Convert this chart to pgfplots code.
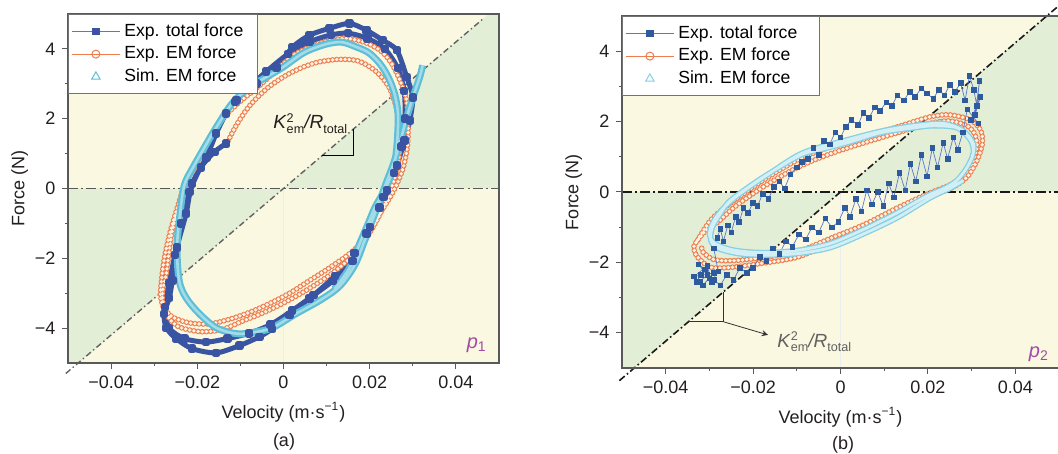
\documentclass[border=0pt]{standalone}
\usepackage{fontspec}
\setmainfont{Liberation Sans}
\usepackage{pgfplots}
\usepackage{pgfplotstable}
\pgfplotsset{compat=1.18}

\definecolor{bgY}{HTML}{FAF8E0}
\definecolor{bgG}{HTML}{E3EED6}
\definecolor{blueA}{HTML}{3A54A4}
\definecolor{blueL}{HTML}{5A78C8}
\definecolor{blueB}{HTML}{2D5B9E}
\definecolor{orA}{HTML}{EE7D4E}
\definecolor{orFill}{HTML}{FDF2E2}
\definecolor{cyA}{HTML}{5CBFD7}
\definecolor{cyIn}{HTML}{A4DBE9}
\definecolor{cyB}{HTML}{85D0E2}
\definecolor{cyBIn}{HTML}{D3EFF5}
\definecolor{pcol}{HTML}{A24BA6}
\definecolor{txt}{HTML}{231F20}

\pgfplotsset{
  panel/.style={
    scale only axis, clip=false, axis on top,
    xmin=-0.05, xmax=0.05, ymin=-5, ymax=5,
    xtick={-0.04,-0.02,0,0.02,0.04},
    xticklabels={−0.04,−0.02,0,0.02,0.04},
    ytick={-4,-2,0,2,4}, yticklabels={−4,−2,0,2,4},
    minor x tick num=1, minor y tick num=1,
    scaled x ticks=false, scaled y ticks=false,
    tick align=outside, tick pos=left,
    major tick length=2.8pt, minor tick length=1.6pt,
    axis line style={draw=black!65, line width=0.55pt},
    tick style={draw=black!65, line width=0.5pt},
    tick label style={font=\fontsize{9}{10}\selectfont, text=txt},
    label style={font=\fontsize{9}{10}\selectfont, text=txt},
    xlabel={Velocity (m·s\textsuperscript{−1})},
    ylabel={Force (N)},
    ylabel style={yshift=-3.5pt},
    axis background/.style={fill=bgY},
    legend cell align=left,
    legend style={at={(0,1)}, anchor=north west, draw=black!55, line width=0.5pt,
      fill=white, font=\fontsize{8.8}{10.5}\selectfont, inner xsep=1.5pt, inner ysep=4pt,
      row sep=2.2pt, nodes={inner ysep=0.6pt}},
    legend image code/.code={\draw[mark repeat=2,mark phase=2,##1] plot coordinates {(0cm,0cm) (0.42cm,0cm) (0.84cm,0cm)};},
  },
  orout/.style={draw=orA, line width=2.8pt, line cap=round, dash pattern=on 0pt off 2.1pt, smooth, tension=0.5, forget plot},
  orin/.style={draw=orFill, line width=1.9pt, line cap=round, dash pattern=on 0pt off 2.1pt, smooth, tension=0.5, forget plot},
}

% Exp. EM force, panel (a)
\pgfplotstableread{
x y
-0.0133 1.25
-0.0110 1.80
-0.0080 2.35
-0.0040 2.85
0.0000 3.20
0.0040 3.45
0.0080 3.62
0.0130 3.70
0.0175 3.65
0.0215 3.35
0.0245 2.90
0.0262 2.30
0.0270 1.60
0.0268 0.90
0.0258 0.30
0.0240 -0.30
0.0215 -0.95
0.0185 -1.55
0.0150 -2.05
0.0105 -2.50
0.0055 -2.90
0.0005 -3.25
-0.0045 -3.55
-0.0095 -3.80
-0.0145 -4.05
-0.0195 -4.10
-0.0245 -3.95
-0.0272 -3.60
-0.0285 -3.10
-0.0282 -2.50
-0.0275 -1.90
-0.0262 -1.20
-0.0245 -0.50
-0.0228 0.15
-0.0205 0.60
-0.0185 1.10
-0.0160 1.70
-0.0130 2.15
-0.0100 2.50
-0.0060 2.90
-0.0020 3.35
0.0020 3.80
0.0060 4.05
0.0100 4.22
0.0145 4.30
0.0190 4.18
0.0225 3.95
0.0250 3.60
0.0270 3.10
0.0285 2.55
0.0289 1.90
0.0288 1.25
0.0278 0.60
0.0262 0.10
0.0245 -0.30
0.0222 -0.75
0.0192 -1.40
0.0155 -1.85
0.0107 -2.27
0.0060 -2.64
0.0014 -3.00
-0.0033 -3.30
-0.0079 -3.55
-0.0126 -3.75
-0.0172 -3.88
-0.0219 -3.85
-0.0258 -3.68
-0.0277 -3.40
-0.0281 -3.00
-0.0272 -2.45
-0.0266 -1.87
-0.0258 -1.21
-0.0242 -0.55
-0.0226 0.09
-0.0219 0.32
}\emA

% Exp. EM force, panel (b)
\pgfplotstableread{
x y
-0.0327 -1.37
-0.0297 -0.80
-0.0251 -0.31
-0.0176 0.34
-0.0098 0.91
-0.0023 1.28
0.0053 1.57
0.0130 1.85
0.0206 2.14
0.0251 2.19
0.0297 2.05
0.0320 1.77
0.0325 1.40
0.0313 0.91
0.0290 0.43
0.0258 0.14
0.0206 -0.14
0.0130 -0.60
0.0053 -1.08
-0.0023 -1.45
-0.0098 -1.85
-0.0176 -2.02
-0.0251 -2.14
-0.0297 -2.14
-0.0327 -1.85
-0.0336 -1.57
-0.0327 -1.37
-0.0305 -1.05
-0.0280 -0.85
-0.0240 -0.40
-0.0170 0.20
-0.0095 0.72
-0.0020 1.10
0.0055 1.40
0.0130 1.68
0.0205 1.95
0.0250 2.02
0.0290 1.88
0.0308 1.62
0.0312 1.28
0.0302 0.85
0.0280 0.45
0.0250 0.20
0.0200 -0.05
0.0130 -0.45
0.0055 -0.92
-0.0020 -1.30
-0.0095 -1.68
-0.0170 -1.85
-0.0245 -1.95
-0.0290 -1.92
-0.0315 -1.70
-0.0318 -1.50
}\emB

\newcommand{\slopelabel}{\textit{K}\rlap{\raisebox{3.4pt}{\fontsize{6.3}{7}\selectfont 2}}\raisebox{-2.2pt}{\fontsize{6.3}{7}\selectfont em}\textit{/R}\raisebox{-2.2pt}{\fontsize{6.3}{7}\selectfont total}}

\begin{document}
\begin{tikzpicture}
\useasboundingbox (0,0) rectangle (529pt,227pt);

% ---------------- panel (a) ----------------
\begin{axis}[panel, width=215.5pt, height=174.5pt, at={(34pt,45.5pt)}, anchor=south west]
\addlegendimage{draw=blueL, line width=0.5pt, mark=square*, mark options={draw=blueA, fill=blueA}, mark size=1.6pt}
\addlegendentry{\makebox[63pt][l]{Exp. total force}}
\addlegendimage{draw=orA, line width=0.5pt, mark=o, mark options={draw=orA, fill=white}, mark size=2pt}
\addlegendentry{Exp. EM force}
\addlegendimage{only marks, mark=triangle, mark options={draw=cyA}, mark size=2.4pt}
\addlegendentry{Sim. EM force}

\addplot[fill=bgG, draw=none, forget plot] coordinates {(0,0) (0.05,0) (0.05,5) (0.0476,5)} -- cycle;
\addplot[fill=bgG, draw=none, forget plot] coordinates {(0,0) (-0.05,0) (-0.05,-5) (-0.0476,-5)} -- cycle;
\addplot[draw=black!7, line width=0.3pt, forget plot] coordinates {(0,-5) (0,0)};
\addplot[draw=black!65, line width=0.85pt, dash pattern=on 5pt off 1.6pt on 1pt off 1.6pt, forget plot] coordinates {(-0.05,0) (0.05,0)};
\addplot[draw=black!62, line width=0.7pt, dash pattern=on 3pt off 1.5pt on 0.7pt off 1.5pt, forget plot] coordinates {(-0.0505,-5.30) (0.0463,4.86)};

% Exp. total force
\addplot[draw=blueA, line width=2.5pt, smooth, tension=0.45, line join=round, mark=square*, mark size=0.85pt, mark options={draw=blueA, fill=blueA}, forget plot] coordinates {
(-0.0109,2.53) (-0.0063,3.01) (-0.0016,3.47) (0.0021,4.05) (0.0060,4.39) (0.0107,4.59) (0.0153,4.73) (0.0193,4.53) (0.0230,4.25) (0.0263,3.96) (0.0286,3.19) (0.0300,2.61) (0.0293,1.95) (0.0281,1.38) (0.0263,0.66) (0.0240,-0.06) (0.0223,-0.55) (0.0193,-1.29) (0.0160,-2.07) (0.0114,-2.65) (0.0060,-3.15) (0.0014,-3.62) (-0.0026,-4.02) (-0.0056,-4.25) (-0.0102,-4.50) (-0.0156,-4.71) (-0.0212,-4.59) (-0.0249,-4.30) (-0.0272,-3.99) (-0.0277,-3.59) (-0.0265,-3.13) (-0.0258,-2.64) (-0.0247,-1.69) (-0.0226,-0.72) (-0.0212,0.14) (-0.0179,0.89) (-0.0156,1.58) (-0.0133,2.15) (-0.0112,2.48)
(-0.0085,2.85) (-0.0040,3.35) (0.0010,3.85) (0.0060,4.20) (0.0110,4.40) (0.0150,4.45) (0.0195,4.30) (0.0235,4.00) (0.0265,3.45) (0.0280,2.80) (0.0282,2.00) (0.0274,1.20) (0.0256,0.45) (0.0232,-0.25) (0.0200,-1.10) (0.0165,-1.85) (0.0120,-2.50) (0.0070,-3.05) (0.0020,-3.50) (-0.0030,-3.90) (-0.0080,-4.15) (-0.0130,-4.30) (-0.0180,-4.40) (-0.0230,-4.30) (-0.0265,-4.00) (-0.0275,-3.40) (-0.0265,-2.70) (-0.0252,-1.90) (-0.0238,-1.00) (-0.0218,-0.10) (-0.0192,0.60) (-0.0160,1.05) (-0.0133,1.29)};

% Exp. EM force
\addplot[orout] table {\emA};
\addplot[orin] table {\emA};

% Sim. EM force
\addplot[draw=cyA, line width=1.1pt, double=cyIn, double distance=1.3pt, smooth, tension=0.55, forget plot] coordinates {
(0.0323,3.53) (0.0316,3.19) (0.0300,2.60) (0.0285,2.00) (0.0270,1.30) (0.0255,0.70) (0.0238,0.15) (0.0222,-0.40) (0.0205,-0.95) (0.0188,-1.50) (0.0165,-2.20) (0.0130,-2.80) (0.0085,-3.20) (0.0030,-3.58) (-0.0026,-3.99) (-0.0070,-4.12) (-0.0109,-4.16) (-0.0156,-3.99) (-0.0195,-3.59) (-0.0226,-3.13) (-0.0242,-2.64) (-0.0247,-1.69) (-0.0240,-0.72) (-0.0230,0.10) (-0.0210,0.60) (-0.0180,1.25) (-0.0156,1.75) (-0.0119,2.44) (-0.0079,2.90) (-0.0040,3.19) (-0.0002,3.47) (0.0044,3.87) (0.0077,4.05) (0.0107,4.16) (0.0137,4.19) (0.0170,4.05) (0.0200,3.87) (0.0230,3.47) (0.0253,2.90) (0.0265,2.24) (0.0265,1.58) (0.0260,0.89) (0.0248,0.32) (0.0230,-0.15) (0.0212,-0.55) (0.0195,-1.05) (0.0176,-1.60) (0.0152,-2.30) (0.0118,-2.88)};

% slope annotation
\addplot[draw=black, line width=0.5pt, forget plot] coordinates {(0.0090,0.94) (0.0163,0.94) (0.0163,1.70)};
\node[anchor=base, font=\fontsize{9.5}{11}\selectfont, text=txt] at (axis cs:0.0062,1.71) {\slopelabel};
\node[anchor=base west, font=\fontsize{10}{12}\selectfont, text=pcol] at (axis cs:0.0409,-4.59) {\textit{p}\textsubscript{1}};
\end{axis}

% ---------------- panel (b) ----------------
\begin{axis}[panel, width=218.5pt, height=176pt, at={(311pt,43pt)}, anchor=south west]
\addlegendimage{draw=blueL, line width=0.5pt, mark=square*, mark options={draw=blueB, fill=blueB}, mark size=1.6pt}
\addlegendentry{\makebox[67pt][l]{Exp. total force}}
\addlegendimage{draw=orA, line width=0.5pt, mark=o, mark options={draw=orA, fill=white}, mark size=2pt}
\addlegendentry{Exp. EM force}
\addlegendimage{only marks, mark=triangle, mark options={draw=cyB}, mark size=2.4pt}
\addlegendentry{Sim. EM force}

\addplot[fill=bgG, draw=none, forget plot] coordinates {(0,0) (0.05,0) (0.05,5) (0.0472,5)} -- cycle;
\addplot[fill=bgG, draw=none, forget plot] coordinates {(0,0) (-0.05,0) (-0.05,-5) (-0.0472,-5)} -- cycle;
\addplot[draw=black!7, line width=0.3pt, forget plot] coordinates {(0,-5) (0,0)};
\addplot[draw=black!90, line width=0.85pt, dash pattern=on 5pt off 1.5pt on 1pt off 1.5pt, forget plot] coordinates {(-0.05,0) (0.05,0)};
\addplot[draw=black!90, line width=0.8pt, dash pattern=on 3.5pt off 1.4pt on 0.8pt off 1.4pt, forget plot] coordinates {(-0.0506,-5.36) (0.0505,5.35)};

% Exp. EM force
\addplot[orout] table {\emB};
\addplot[orin] table {\emB};

% Exp. total force
\addplot[draw=blueL, line width=0.35pt, mark=square*, mark size=1.15pt, mark options={draw=blueB, fill=blueB, solid}, forget plot] coordinates {
(-0.0320,-2.35) (-0.0330,-2.55) (-0.0310,-2.20) (-0.0325,-2.05) (-0.0300,-2.45) (-0.0315,-2.65) (-0.0290,-2.30) (-0.0335,-2.40) (-0.0305,-2.10) (-0.0295,-2.55) (-0.0280,-2.25)
(-0.0290,-1.60) (-0.0282,-1.30) (-0.0275,-1.05) (-0.0268,-1.40) (-0.0258,-0.95) (-0.0250,-1.15) (-0.0240,-0.70) (-0.0232,-0.85) (-0.0222,-0.45) (-0.0212,-0.60) (-0.0200,-0.30) (-0.0190,-0.40) (-0.0178,-0.05) (-0.0165,-0.20) (-0.0152,0.15) (-0.0140,0.30) (-0.0128,0.10) (-0.0115,0.50) (-0.0100,0.70) (-0.0088,0.85) (-0.0075,0.95) (-0.0062,1.25) (-0.0050,1.05) (-0.0038,1.45) (-0.0025,1.35) (-0.0012,1.70) (0.0000,1.55) (0.0012,1.85) (0.0025,2.05) (0.0040,1.90) (0.0052,2.25) (0.0065,2.10) (0.0078,2.40) (0.0090,2.30) (0.0105,2.55) (0.0118,2.45) (0.0130,2.75) (0.0145,2.60) (0.0158,2.85) (0.0170,2.70) (0.0185,2.95) (0.0198,2.80) (0.0212,2.65) (0.0225,2.90) (0.0238,2.75) (0.0250,3.05)
(0.0262,2.85) (0.0275,3.10) (0.0285,2.60) (0.0295,3.30) (0.0305,2.90) (0.0312,2.45) (0.0318,3.15) (0.0308,2.20) (0.0320,2.70) (0.0298,2.05) (0.0315,1.95) (0.0290,2.35)
(0.0280,1.70) (0.0268,1.20) (0.0258,1.55) (0.0245,0.95) (0.0235,1.40) (0.0222,0.70) (0.0210,1.25) (0.0198,0.45) (0.0185,1.05) (0.0172,0.30) (0.0160,0.80) (0.0148,0.05) (0.0135,0.55) (0.0122,-0.15) (0.0110,0.25) (0.0098,-0.40) (0.0085,0.00)
(0.0072,-0.35) (0.0060,0.05) (0.0048,-0.55) (0.0035,-0.20) (0.0022,-0.70) (0.0010,-0.45) (-0.0005,-0.85) (-0.0020,-1.00) (-0.0035,-0.75) (-0.0050,-1.15) (-0.0065,-1.00) (-0.0080,-1.35) (-0.0095,-1.20) (-0.0110,-1.55) (-0.0125,-1.40) (-0.0140,-1.75) (-0.0155,-1.60) (-0.0170,-1.95) (-0.0185,-1.85) (-0.0200,-2.15) (-0.0215,-2.30) (-0.0230,-2.15) (-0.0245,-2.50) (-0.0260,-2.35) (-0.0275,-2.65)
(-0.0290,-2.50) (-0.0305,-2.35) (-0.0322,-2.55)};

% Sim. EM force
\addplot[draw=cyB, line width=0.65pt, double=cyBIn, double distance=1.4pt, smooth, tension=0.5, forget plot] coordinates {
(0.0280,0.32) (0.0250,0.10) (0.0206,-0.16) (0.0130,-0.73) (0.0053,-1.19) (-0.0023,-1.58) (-0.0098,-1.75) (-0.0176,-1.80) (-0.0235,-1.75) (-0.0281,-1.60) (-0.0297,-1.37) (-0.0293,-1.00) (-0.0274,-0.60) (-0.0251,-0.23) (-0.0176,0.43) (-0.0091,1.05) (-0.0046,1.20) (0.0016,1.40) (0.0091,1.68) (0.0167,1.82) (0.0213,1.88) (0.0267,1.82) (0.0297,1.48) (0.0304,1.11) (0.0290,0.71) (0.0267,0.34) (0.0240,0.12) (0.0200,-0.10) (0.0125,-0.62) (0.0050,-1.08) (-0.0025,-1.47) (-0.0100,-1.66) (-0.0176,-1.72) (-0.0240,-1.66) (-0.0285,-1.48) (-0.0300,-1.20) (-0.0290,-0.82) (-0.0265,-0.42) (-0.0230,-0.05) (-0.0160,0.55) (-0.0085,1.12) (0.0020,1.50) (0.0100,1.75) (0.0175,1.90) (0.0235,1.95) (0.0280,1.75) (0.0305,1.35) (0.0300,0.95)};

% slope annotation
\addplot[draw=black!80, line width=0.5pt, forget plot] coordinates {(-0.0350,-3.69) (-0.0267,-3.69) (-0.0267,-2.84)};
\addplot[draw=black!80, line width=0.4pt, -stealth, forget plot] coordinates {(-0.0267,-3.69) (-0.0166,-4.06)};
\node[anchor=base, font=\fontsize{9.5}{11}\selectfont, text=black!62] at (axis cs:-0.0060,-4.41) {\slopelabel};
\node[anchor=base west, font=\fontsize{10}{12}\selectfont, text=pcol] at (axis cs:0.0415,-4.69) {\textit{p}\textsubscript{2}};
\end{axis}

\node[font=\fontsize{9}{10}\selectfont, text=txt] at (142pt,6pt) {(a)};
\node[font=\fontsize{9}{10}\selectfont, text=txt] at (421.5pt,4.5pt) {(b)};
\end{tikzpicture}
\end{document}
